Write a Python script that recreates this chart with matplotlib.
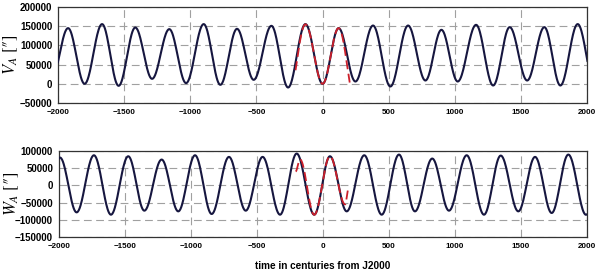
import numpy as np
import matplotlib.pyplot as plt

# extrema of the curves (time in centuries, value in arcsec)
# first/last knots lie just outside the plotted range
va_t = [-2052, -1924, -1799, -1667, -1542, -1416, -1289, -1159, -1032, -899, -773,
        -647, -521, -387, -261, -130, 0, 121, 248, 381, 512, 646, 777, 898, 1021,
        1160, 1289, 1414, 1546, 1676, 1797, 1928, 2056]
va_v = [10000, 145000, 0, 155500, -5200, 146600, 13000, 142400, 1800, 155500, -2600,
        143200, 10400, 151000, -9600, 155500, 0, 145000, 6000, 151800, -7000, 151800,
        8600, 140600, 6000, 153600, -4400, 147600, 8600, 147600, -4400, 155500, 0]

va_fit_t = [-260, -130, 0, 121, 250]
va_fit_v = [-39000, 155000, 0, 145000, -50000]
va_fit_range = [-206, 205]

wa_t = [-2120, -1990, -1864, -1733, -1604, -1473, -1351, -1220, -1094, -967, -841,
        -710, -583, -455, -323, -197, -64, 55, 182, 315, 447, 578, 699, 830, 957,
        1091, 1222, 1349, 1482, 1609, 1735, 1861, 1995, 2120]
wa_v = [-80000, 80000, -78000, 86700, -84700, 83800, -73100, 74300, -75100, 86700,
        -82700, 82000, -73100, 82000, -84700, 91600, -84700, 83800, -75100, 86700,
        -84700, 88700, -75100, 77200, -73100, 86700, -84700, 85800, -75100, 82000,
        -79800, 88700, -85000, 85000]

wa_fit_t = [-205, -172, -64, 55, 170, 195]
wa_fit_v = [40000, 75000, -85000, 84000, -55000, -10000]
wa_fit_range = [-205, 195]

xticks = [-2000, -1500, -1000, -500, 0, 500, 1000, 1500, 2000]


def smooth(kt, kv, n=40):
    # half-cosine between consecutive extrema
    ts, vs = [], []
    for i in range(len(kt) - 1):
        s = np.linspace(0, 1, n, endpoint=False)
        ts.append(kt[i] + (kt[i + 1] - kt[i]) * s)
        vs.append(kv[i] + (kv[i + 1] - kv[i]) * (1 - np.cos(np.pi * s)) / 2)
    ts.append([kt[-1]])
    vs.append([kv[-1]])
    return np.concatenate(ts), np.concatenate(vs)


def clip(t, v, r):
    m = (t >= r[0]) & (t <= r[1])
    return t[m], v[m]


plt.rcParams['mathtext.fontset'] = 'stix'

navy = '#16163f'
red = '#cc1f2a'
tickfont = dict(family='Liberation Sans', weight='bold')

fig = plt.figure(figsize=(6, 2.71), dpi=100)
ax1 = fig.add_axes([0.0967, 0.620, 0.882, 0.354])
ax2 = fig.add_axes([0.0978, 0.1244, 0.880, 0.3196])

panels = [
    (ax1, va_t, va_v, va_fit_t, va_fit_v, va_fit_range, (-50000, 200000), 50000, 'V'),
    (ax2, wa_t, wa_v, wa_fit_t, wa_fit_v, wa_fit_range, (-150000, 100000), 50000, 'W'),
]

for ax, kt, kv, ft, fv, fr, ylim, ystep, sym in panels:
    t, v = smooth(kt, kv)
    ax.plot(t, v, color=navy, lw=1.5, zorder=3)
    t2, v2 = clip(*smooth(ft, fv), fr)
    ax.plot(t2, v2, color=red, lw=1.3, ls=(0, (5, 2.5)), zorder=4)
    ax.set_xlim(-2000, 2000)
    ax.set_ylim(*ylim)
    ax.set_xticks(xticks)
    ax.set_yticks(np.arange(ylim[0], ylim[1] + 1, ystep))
    ax.grid(True, color='#a0a0a0', ls=(0, (7, 4)), lw=0.8)
    ax.tick_params(length=0, pad=4)
    for lab in ax.get_xticklabels():
        lab.set(fontsize=5.8, **tickfont)
    for lab in ax.get_yticklabels():
        lab.set(fontsize=7, **tickfont)
    for sp in ax.spines.values():
        sp.set_color('#333333')
        sp.set_linewidth(0.9)
    ax.set_ylabel('$%s_A$ [″]' % sym, fontsize=12, family='STIXGeneral', labelpad=3)
    ax.yaxis.set_label_coords(-0.072, 0.5)

ax2.set_xlabel('time in centuries from J2000', fontsize=7.2, labelpad=8, **tickfont)

fig.savefig('out.png', dpi=100)
